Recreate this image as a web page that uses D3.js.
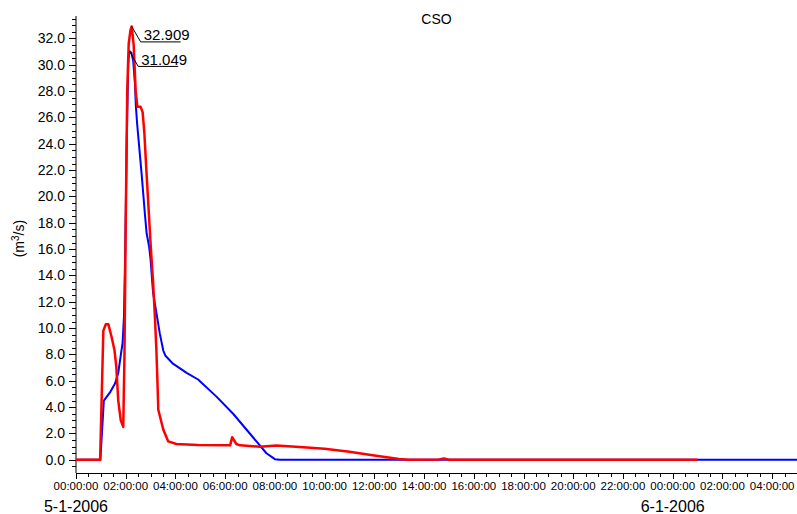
<!DOCTYPE html>
<html>
<head>
<meta charset="utf-8">
<script src="https://cdn.jsdelivr.net/npm/d3@7"></script>
<style>
  body { margin: 0; background: #fff; }
  text { font-family: "Liberation Sans", Arial, Helvetica, sans-serif; fill: #000; }
</style>
</head>
<body>
<script>
// hours since 5-1-2006 00:00, flow in m3/s
const redHours = [0, 0.97, 1.1, 1.2, 1.3, 1.43, 1.55, 1.62, 1.7, 1.8, 1.9, 1.95, 2.0, 2.06, 2.12, 2.19, 2.24,
  2.32, 2.4, 2.47, 2.6, 2.68, 2.75, 2.83, 2.9, 3.0, 3.1, 3.17, 3.23, 3.27, 3.31, 3.51, 3.71, 4.04, 4.9,
  6.2, 6.28, 6.45, 6.6, 7.4, 8.06, 9.0, 10.0, 11.0, 12.0, 13.0, 13.4, 14.6, 14.8, 15.0, 25.0];
const redFlow = [0, 0, 9.8, 10.3, 10.3, 9.35, 8.3, 7.1, 4.5, 3.0, 2.5, 8, 18, 28, 31.6, 32.6, 32.909,
  31.5, 28, 26.8, 26.8, 26.4, 24.8, 22.0, 19.7, 16.4, 13.5, 11.0, 8.5, 6.3, 3.8, 2.3, 1.4, 1.2, 1.12,
  1.1, 1.72, 1.2, 1.1, 1.0, 1.08, 0.98, 0.85, 0.62, 0.33, 0.07, 0, 0.02, 0.1, 0, 0];

const blueHours = [0, 0.98, 1.12, 1.36, 1.57, 1.7, 1.79, 1.875, 1.93, 1.98, 2.04, 2.1, 2.14, 2.23, 2.3,
  2.37, 2.41, 2.46, 2.54, 2.64, 2.77, 2.84, 2.94, 3.0, 3.1, 3.24, 3.37, 3.51, 3.6, 3.9, 4.45, 4.91,
  5.65, 6.32, 6.99, 7.66, 8.0, 8.2, 29.0];
const blueFlow = [0, 0, 4.5, 5.1, 5.8, 6.6, 7.8, 8.9, 10.9, 15.9, 24, 30, 31.049, 30.9, 30.3,
  28.6, 26.8, 25.5, 23.8, 21.7, 18.7, 17.2, 16.2, 15.2, 12.7, 11.1, 9.6, 8.3, 7.9, 7.3, 6.6, 6.1,
  4.8, 3.5, 2.0, 0.5, 0.05, 0, 0];

const yMajorTicks = d3.range(0, 33, 2);
const yMinorTicks = d3.range(-0.5, 33.6, 0.5);
const xLabelHours = d3.range(0, 29, 2);
const dateLabels = [{ hour: 0, text: "5-1-2006" }, { hour: 24, text: "6-1-2006" }];
const title = "CSO";

const width = 797, height = 514;
const plotLeft = 76, plotRight = 797, plotTop = 16, plotBottom = 473;
const start = new Date(2006, 0, 5, 0, 0, 0);
const toDate = h => new Date(start.getTime() + h * 3600 * 1000);

const x = d3.scaleTime().domain([toDate(0), toDate(29)]).range([plotLeft, plotRight]);
const y = d3.scaleLinear().domain([-1, 33.7]).range([plotBottom, plotTop]);

const svg = d3.select('body').append('svg')
  .attr('width', width)
  .attr('height', height);

svg.append('text')
  .attr('x', (plotLeft + plotRight) / 2)
  .attr('y', 24)
  .attr('text-anchor', 'middle')
  .style('font-size', '14px')
  .text(title);

// y axis
const yAxis = svg.append('g').attr('class', 'y-axis');
yAxis.append('line')
  .attr('x1', plotLeft).attr('x2', plotLeft)
  .attr('y1', plotTop).attr('y2', plotBottom)
  .attr('stroke', '#000');
yAxis.selectAll('line.minor')
  .data(yMinorTicks)
  .enter().append('line')
  .attr('class', 'minor')
  .attr('x1', d => (Math.abs(d % 2) < 1e-9 ? plotLeft - 7 : plotLeft - 4))
  .attr('x2', plotLeft)
  .attr('y1', d => Math.round(y(d)) + 0.5)
  .attr('y2', d => Math.round(y(d)) + 0.5)
  .attr('stroke', '#000');
yAxis.selectAll('text')
  .data(yMajorTicks)
  .enter().append('text')
  .attr('x', plotLeft - 11)
  .attr('y', d => y(d) + 5)
  .attr('text-anchor', 'end')
  .style('font-size', '14px')
  .text(d => d3.format('.1f')(d));

svg.append('text')
  .attr('transform', `translate(24, ${y(16.8)}) rotate(-90)`)
  .attr('text-anchor', 'middle')
  .style('font-size', '14px')
  .html('(m<tspan baseline-shift="super" font-size="10px">3</tspan>/s)');

// x axis
const xAxis = svg.append('g').attr('class', 'x-axis');
xAxis.append('line')
  .attr('x1', plotLeft).attr('x2', plotRight)
  .attr('y1', plotBottom + 0.5).attr('y2', plotBottom + 0.5)
  .attr('stroke', '#000');
xAxis.selectAll('line.tick')
  .data(d3.range(0, 29.01, 0.5))
  .enter().append('line')
  .attr('class', 'tick')
  .attr('x1', d => Math.round(x(toDate(d))) + 0.5)
  .attr('x2', d => Math.round(x(toDate(d))) + 0.5)
  .attr('y1', plotBottom)
  .attr('y2', d => (d % 2 === 0 ? plotBottom + 6 : plotBottom + 4))
  .attr('stroke', '#000');
xAxis.selectAll('text.hour')
  .data(xLabelHours)
  .enter().append('text')
  .attr('class', 'hour')
  .attr('x', d => x(toDate(d)))
  .attr('y', 490)
  .attr('text-anchor', 'middle')
  .style('font-size', '11.5px')
  .text(d => d3.timeFormat('%H:%M:%S')(toDate(d)));
xAxis.selectAll('text.date')
  .data(dateLabels)
  .enter().append('text')
  .attr('class', 'date')
  .attr('x', d => x(toDate(d.hour)))
  .attr('y', 512)
  .attr('text-anchor', 'middle')
  .style('font-size', '16px')
  .text(d => d.text);

// series
const line = d3.line()
  .x(d => x(toDate(d[0])))
  .y(d => y(d[1]));

const series = [
  { color: '#0000ff', width: 2, pts: d3.zip(blueHours, blueFlow) },
  { color: '#ff0000', width: 2.5, pts: d3.zip(redHours, redFlow) }
];

svg.append('g').selectAll('path')
  .data(series)
  .enter().append('path')
  .attr('d', d => line(d.pts))
  .attr('fill', 'none')
  .attr('stroke', d => d.color)
  .attr('stroke-width', d => d.width)
  .attr('stroke-linejoin', 'round');

// peak labels
const peaks = series.map(s => s.pts.reduce((a, b) => (b[1] > a[1] ? b : a)));
const peakG = svg.append('g').selectAll('g')
  .data(peaks)
  .enter().append('g')
  .attr('transform', d => `translate(${x(toDate(d[0]))},${y(d[1])})`);
peakG.append('path')
  .attr('d', 'M0,0L9,15.5L49,15.5')
  .attr('fill', 'none')
  .attr('stroke', '#000')
  .attr('stroke-width', 1);
peakG.append('text')
  .attr('x', 12)
  .attr('y', 14)
  .style('font-size', '15px')
  .text(d => d3.format('.3f')(d[1]));
</script>
</body>
</html>
